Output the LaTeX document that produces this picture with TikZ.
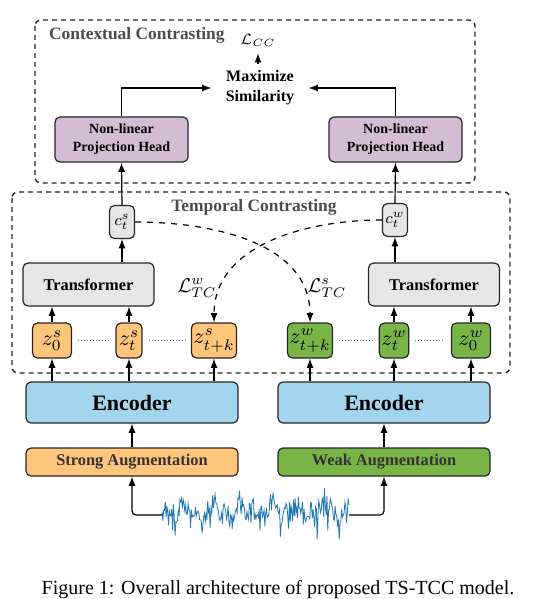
\RequirePackage{fix-cm}
\documentclass[tikz,border=0pt]{standalone}
\usepackage{fontspec}
\setmainfont{Liberation Serif}
\usepackage{amsmath}
\usetikzlibrary{arrows}
\usetikzlibrary{positioning}
\definecolor{encblue}{RGB}{163,213,238}
\definecolor{strongor}{RGB}{255,197,122}
\definecolor{weakgr}{RGB}{120,180,70}
\definecolor{projpu}{RGB}{212,188,212}
\definecolor{trgray}{RGB}{230,230,230}
\definecolor{sigblue}{RGB}{31,119,180}
\tikzset{
boxbase/.style={
  draw=black!85,line width=0.6pt,rounded corners=2.5pt,align=center},
encbox/.style={
  boxbase,fill=encblue,minimum width=106pt,minimum height=20.5pt,
  font=\fontsize{11}{13}\selectfont\bfseries},
augbox/.style={
  boxbase,minimum width=106pt,minimum height=14pt,inner sep=1pt,text=black!80,
  font=\fontsize{8.2}{10}\selectfont\bfseries},
zbox/.style={
  boxbase,minimum height=17.5pt,minimum width=#1,inner sep=1pt,
  font=\fontsize{11}{13}\selectfont},
trbox/.style={
  boxbase,fill=trgray,minimum width=65.5pt,minimum height=21.5pt,
  font=\fontsize{8.2}{10}\selectfont\bfseries},
cbox/.style={
  boxbase,fill=trgray,minimum width=12.5pt,minimum height=16.5pt,inner sep=1pt,
  font=\fontsize{8}{10}\selectfont},
projbox/.style={
  boxbase,fill=projpu,minimum width=66.5pt,minimum height=22.5pt,inner sep=1pt,
  font=\fontsize{7}{9}\selectfont\bfseries},
grouptitle/.style={
  text=black!70,font=\fontsize{8.7}{10}\selectfont\bfseries},
groupbox/.style={
  draw=black!85,line width=0.7pt,dash pattern=on 2.5pt off 2pt,rounded corners=3pt}
}

\begin{document}
\begin{tikzpicture}[x=0.5pt,y=-0.5pt,arr/.style={line width=0.6pt,-latex},
  dotline/.style={densely dotted,line width=0.5pt,black!60,shorten >=3pt,shorten <=3pt}]
\useasboundingbox (0,0) rectangle (560,599);

\draw[groupbox] (35,20) rectangle (475,183);
\draw[groupbox] (12,192) rectangle (510,373);
\node[grouptitle,anchor=west](ccTitle) at (42,35) {Contextual Contrasting};
\node[grouptitle](tcTitle) at (254,207) {Temporal Contrasting};

\node[encbox](encS) at (132,402.5) {Encoder};
\node[encbox](encW) at (384,402.5) {Encoder};
\node[augbox,fill=strongor](augS) at (132,462) {Strong Augmentation};
\node[augbox,fill=weakgr](augW) at (384,462) {Weak Augmentation};

\node[zbox=19.5pt,fill=strongor](z0S) at (52,340.5) {$z^{s}_{0}$};
\node[zbox=13pt,fill=strongor](ztS) at (129,340.5) {$z^{s}_{t}$};
\node[zbox=19pt,fill=strongor](ztkS) at (214,340.5) {$z^{s}_{t+k}$};
\node[zbox=19pt,fill=weakgr](ztkW) at (310,340.5) {$z^{w}_{t+k}$};
\node[zbox=13pt,fill=weakgr](ztW) at (394,340.5) {$z^{w}_{t}$};
\node[zbox=19.5pt,fill=weakgr](z0W) at (471,340.5) {$z^{w}_{0}$};

\node[trbox](trS) at (88.5,284.5) {Transformer};
\node[trbox](trW) at (434,284.5) {Transformer};
\node[cbox](cS) at (122,222) {$c^{s}_{t}$};
\node[cbox](cW) at (395,220) {$c^{w}_{t}$};

\node[projbox](projS) at (121.5,139.5) {Non-linear\\Projection Head};
\node[projbox](projW) at (395.5,139.5) {Non-linear\\Projection Head};
\node[align=center,inner xsep=7pt,font=\fontsize{8}{10}\selectfont\bfseries](maxSim) at (260,88) {Maximize\\Similarity};
\node[font=\fontsize{7.5}{8}\selectfont](Lcc) at (258,40) {$\mathcal{L}_{CC}$};

\node[font=\fontsize{10}{12}\selectfont](LtcW) at (197,288) {$\mathcal{L}^{w}_{TC}$};
\node[font=\fontsize{10}{12}\selectfont](LtcS) at (327,288) {$\mathcal{L}^{s}_{TC}$};

\pgfmathsetseed{11}
\draw[sigblue,line width=0.4pt] plot[domain=162:349,samples=230]
  (\x,{512+5*sin(13*\x)+4*sin(31*\x+40)+9*rand+30*rand*rand*rand});
\coordinate (sigL) at (162,515);
\coordinate (sigR) at (349,515);

\draw[arr,rounded corners=2pt] (sigL) -| (augS.south);
\draw[arr,rounded corners=2pt] (sigR) -| (augW.south);
\draw[arr] (augS.north) -- (encS.south);
\draw[arr] (augW.north) -- (encW.south);

\foreach \z in {z0S,ztS,ztkS,ztkW,ztW,z0W}{
  \draw[arr] (\z |- encS.north) -- (\z.south);
}
\foreach \z in {z0S,ztS}{
  \draw[arr] (\z.north) -- (\z |- trS.south);
}
\foreach \z in {ztW,z0W}{
  \draw[arr] (\z.north) -- (\z |- trW.south);
}
\draw[dotline] (z0S.east) -- (ztS.west);
\draw[dotline] (ztS.east) -- (ztkS.west);
\draw[dotline] (ztkW.east) -- (ztW.west);
\draw[dotline] (ztW.east) -- (z0W.west);

\draw[arr] (cS |- trS.north) -- (cS.south);
\draw[arr] (cW |- trW.north) -- (cW.south);
\draw[arr] (cS.north) -- (projS.south);
\draw[arr] (cW.north) -- (projW.south);

\draw[arr,dashed] (cS.east) to[out=0,in=90] (ztkW.north);
\draw[arr,dashed] (cW.west) to[out=180,in=90] (ztkS.north);

\draw[arr] (projS.north) |- (maxSim.west);
\draw[arr] (projW.north) |- (maxSim.east);
\draw[arr] (maxSim.north -| Lcc) -- (Lcc.south);

\node[font=\fontsize{10}{12}\selectfont](caption) at (278,590) {Figure 1: Overall architecture of proposed TS-TCC model.};

\end{tikzpicture}
\end{document}
